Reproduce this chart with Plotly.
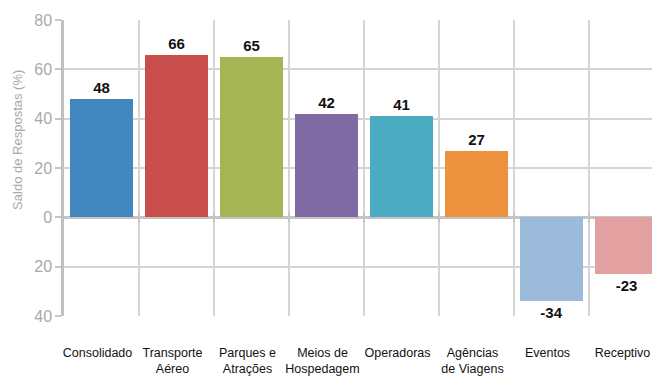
import plotly.graph_objects as go

# Saldo de respostas por segmento (%)
categories = ["Consolidado", "Transporte<br>Aéreo", "Parques e<br>Atrações", "Meios de<br>Hospedagem",
              "Operadoras", "Agências<br>de Viagens", "Eventos", "Receptivo"]
values = [48, 66, 65, 42, 41, 27, -34, -23]
colors = ["#4286BF", "#C84E4B", "#A6B554", "#7F6AA6", "#4BACC1", "#EC913D", "#9CBBDA", "#E2A1A0"]
y_ticks = [-40, -20, 0, 20, 40, 60, 80]
y_tick_text = ["40", "20", "0", "20", "40", "60", "80"]

x = list(range(len(categories)))
bounds = [i + 0.5 for i in x[:-1]]

fig = go.Figure()
fig.add_trace(go.Bar(
    x=x, y=values, width=0.85,
    marker=dict(color=colors, line=dict(width=0)),
    text=[str(v) for v in values], textposition="outside",
    textfont=dict(family="Liberation Sans", size=15, color="#111111", weight="bold"),
    cliponaxis=False, showlegend=False, hoverinfo="skip",
))
# small tick marks on the zero line between categories
fig.add_trace(go.Scatter(
    x=bounds, y=[0] * len(bounds), mode="markers",
    marker=dict(symbol="line-ns-open", size=7, color="#c4c4c4", line=dict(color="#c4c4c4", width=2)),
    showlegend=False, hoverinfo="skip", cliponaxis=False,
))

fig.update_layout(
    width=652, height=376,
    margin=dict(l=64, r=0, t=19.5, b=59.5, autoexpand=False),
    paper_bgcolor="white", plot_bgcolor="white",
    font=dict(family="Liberation Sans", color="#111111"),
    bargap=0,
)
fig.update_xaxes(
    range=[-0.5, -0.5 + (652 - 64) / 75],
    tickvals=x, ticktext=categories, tickangle=0, automargin=False,
    tickfont=dict(size=12.5, color="#111111"),
    ticks="", showgrid=False, zeroline=False, showline=False,
    ticklabelstandoff=27, ticklabelshift=-4, ticklabeloverflow="allow",
    minor=dict(tickvals=bounds, showgrid=True, gridcolor="#d6d6d6", gridwidth=1.5, ticks=""),
)
fig.update_yaxes(
    range=[-40, 80], tickvals=y_ticks, ticktext=y_tick_text, automargin=False,
    tickfont=dict(size=16, color="#a9a9a9"),
    ticks="outside", ticklen=6, tickwidth=2, tickcolor="#c4c4c8",
    showline=True, linecolor="#bfbfc4", linewidth=2.5,
    showgrid=True, gridcolor="#d4d4d4", gridwidth=1.5,
    zeroline=True, zerolinecolor="#c4c4c4", zerolinewidth=2.5,
)
fig.add_annotation(
    text="Saldo de Respostas (%)", textangle=-90,
    xref="paper", yref="paper", x=0, y=0.595, xanchor="center", yanchor="middle",
    xshift=-46, showarrow=False,
    font=dict(size=13, color="#a9a9a9"),
)

fig.write_html("out.html")
